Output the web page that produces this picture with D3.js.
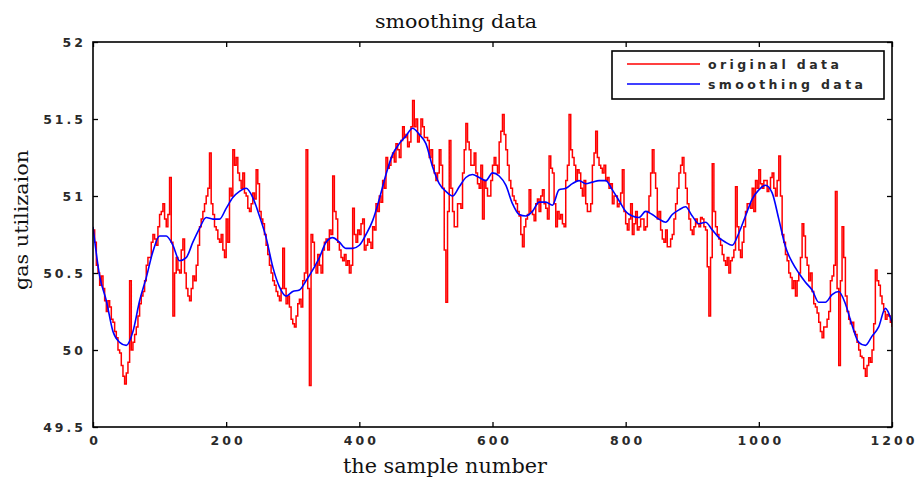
<!DOCTYPE html>
<html>
<head>
<meta charset="utf-8">
<script src="https://cdn.jsdelivr.net/npm/d3@7"></script>
<style>
  html, body { margin: 0; padding: 0; background: #fff; }
  svg { display: block; }
  .tick-label { font-family: "DejaVu Sans", sans-serif; font-weight: bold; font-size: 12.5px; letter-spacing: 3px; fill: #2a2a2a; }
  .legend-label { font-family: "DejaVu Sans", sans-serif; font-weight: bold; font-size: 12.5px; letter-spacing: 3.4px; fill: #2a2a2a; }
  .serif { font-family: "DejaVu Serif", "Liberation Serif", serif; fill: #111; }
</style>
</head>
<body>
<svg id="chart" width="919" height="482"></svg>
<script>
// Original gas utilization readings, one value every 2.5 samples (0..1200)
const originalStep = 2.5;
const originalValues = [
  50.78, 50.70, 50.55, 50.50, 50.42, 50.48, 50.40, 50.32, 50.25, 50.32,
  50.28, 50.20, 50.18, 50.12, 50.08, 50.00, 49.98, 49.90, 49.83, 49.78,
  49.85, 49.92, 50.45, 50.00, 50.05, 50.10, 50.15, 50.22, 50.30, 50.35,
  50.38, 50.45, 50.55, 50.60, 50.60, 50.70, 50.75, 50.72, 50.68, 50.80,
  50.88, 50.90, 50.95, 50.85, 50.80, 50.88, 51.12, 50.70, 50.22, 50.50,
  50.60, 50.52, 50.50, 50.65, 50.72, 50.50, 50.40, 50.35, 50.32, 50.40,
  50.48, 50.45, 50.55, 50.68, 50.80, 50.85, 50.90, 50.95, 51.00, 51.05,
  51.28, 50.95, 50.88, 50.80, 50.78, 50.72, 50.70, 50.75, 50.65, 50.60,
  50.85, 50.70, 51.05, 51.00, 51.30, 51.20, 51.25, 51.15, 51.10, 51.05,
  51.15, 51.02, 51.00, 50.92, 50.90, 50.95, 51.02, 50.98, 51.17, 51.08,
  50.90, 50.85, 50.82, 50.75, 50.68, 50.62, 50.55, 50.50, 50.45, 50.42,
  50.38, 50.35, 50.32, 50.40, 50.66, 50.40, 50.30, 50.35, 50.28, 50.20,
  50.17, 50.15, 50.22, 50.30, 50.33, 50.28, 50.45, 50.50, 51.30, 50.40,
  49.77, 50.75, 50.70, 50.55, 50.50, 50.62, 50.55, 50.50, 50.65, 50.70,
  50.72, 50.65, 50.78, 50.75, 51.13, 50.90, 50.85, 50.70, 50.65, 50.60,
  50.58, 50.62, 50.55, 50.58, 50.50, 50.55, 50.92, 50.75, 50.70, 50.78,
  50.75, 50.82, 50.85, 50.65, 50.68, 50.72, 50.70, 50.66, 50.80, 50.78,
  50.95, 50.90, 51.00, 50.96, 51.10, 51.05, 51.25, 51.18, 51.20, 51.25,
  51.28, 51.22, 51.34, 51.30, 51.25, 51.36, 51.45, 51.38, 51.40, 51.32,
  51.35, 51.45, 51.62, 51.45, 51.50, 51.35, 51.40, 51.50, 51.45, 51.38,
  51.38, 51.36, 51.25, 51.30, 51.20, 51.15, 51.10, 51.15, 51.30, 51.20,
  51.05, 50.65, 50.31, 50.90, 51.36, 51.05, 50.90, 50.80, 50.80, 50.95,
  50.95, 50.92, 51.15, 51.30, 51.47, 51.35, 51.30, 51.20, 51.20, 51.28,
  51.15, 51.08, 51.05, 51.20, 50.85, 51.10, 51.05, 51.00, 51.00, 51.10,
  51.20, 51.25, 51.20, 51.15, 51.35, 51.42, 51.53, 51.40, 51.30, 51.20,
  51.10, 51.05, 51.00, 50.97, 50.95, 50.90, 50.87, 50.75, 50.67, 50.80,
  50.85, 50.88, 51.04, 50.90, 50.88, 50.84, 50.95, 50.98, 50.90, 51.00,
  51.04, 50.95, 50.92, 50.85, 51.26, 51.18, 51.15, 50.95, 50.80, 50.90,
  50.85, 50.88, 50.82, 50.80, 51.10, 51.20, 51.53, 51.30, 51.25, 51.20,
  51.10, 51.17, 51.15, 51.05, 51.00, 51.10, 50.95, 50.90, 50.90, 50.95,
  51.20, 51.28, 51.42, 51.25, 51.20, 51.18, 51.15, 51.20, 51.10, 51.12,
  51.05, 51.08, 50.95, 51.00, 51.00, 50.93, 50.95, 51.02, 51.17, 50.90,
  50.82, 50.78, 50.85, 50.95, 50.75, 50.82, 50.90, 50.78, 50.80, 50.85,
  50.85, 50.78, 50.80, 50.90, 51.00, 51.15, 51.30, 51.15, 51.05, 50.85,
  50.90, 50.78, 50.72, 50.70, 50.78, 50.67, 50.67, 50.72, 50.75, 50.85,
  50.95, 51.05, 51.15, 51.20, 51.25, 51.15, 51.05, 50.95, 50.85, 50.78,
  50.75, 50.80, 50.85, 50.82, 50.80, 50.86, 50.85, 50.80, 50.78, 50.54,
  50.22, 50.60, 51.21, 50.90, 50.80, 50.75, 50.72, 50.68, 50.62, 50.58,
  50.55, 50.60, 50.50, 50.58, 50.60, 50.65, 51.06, 50.80, 50.65, 50.60,
  50.70, 50.80, 50.90, 50.95, 50.95, 50.92, 51.05, 50.90, 51.10, 51.05,
  51.17, 51.08, 51.05, 51.10, 51.10, 51.03, 51.05, 51.12, 51.15, 51.05,
  51.00, 51.10, 51.26, 51.00, 50.75, 50.70, 50.62, 50.58, 50.50, 50.47,
  50.40, 50.45, 50.35, 50.45, 50.50, 50.60, 50.82, 50.74, 50.60, 50.55,
  50.45, 50.50, 50.38, 50.30, 50.28, 50.24, 50.18, 50.12, 50.08, 50.15,
  50.15, 50.20, 50.25, 50.45, 50.48, 50.55, 51.03, 50.40, 49.90, 50.45,
  50.80, 50.60, 50.35, 50.25, 50.20, 50.17, 50.18, 50.12, 50.10, 50.05,
  50.00, 49.96, 49.95, 49.88, 49.83, 49.90, 49.95, 49.92, 50.00, 50.17,
  50.52, 50.45, 50.42, 50.35, 50.30, 50.25, 50.20, 50.23, 50.22, 50.18,
  50.15
];

// Smoothed curve, one value every 10 samples (0..1200)
const smoothStep = 10;
const smoothValues = [
  50.80, 50.48, 50.32, 50.12, 50.05, 50.03, 50.12, 50.32, 50.47, 50.64,
  50.74, 50.74, 50.68, 50.58, 50.60, 50.70, 50.79, 50.86, 50.85, 50.85,
  50.92, 50.99, 51.03, 51.05, 50.99, 50.87, 50.73, 50.54, 50.41, 50.35,
  50.38, 50.39, 50.45, 50.52, 50.60, 50.70, 50.73, 50.70, 50.66, 50.66,
  50.68, 50.75, 50.84, 50.98, 51.14, 51.27, 51.34, 51.39, 51.44, 51.40,
  51.34, 51.19, 51.08, 51.03, 51.00, 51.06, 51.12, 51.14, 51.12, 51.10,
  51.15, 51.13, 51.07, 50.95, 50.88, 50.87, 50.90, 50.96, 50.96, 50.94,
  51.04, 51.05, 51.08, 51.10, 51.08, 51.09, 51.10, 51.10, 51.04, 50.97,
  50.90, 50.87, 50.86, 50.90, 50.88, 50.85, 50.83, 50.88, 50.91, 50.93,
  50.87, 50.82, 50.83, 50.78, 50.73, 50.70, 50.68, 50.76, 50.87, 50.98,
  51.04, 51.07, 51.02, 50.85, 50.67, 50.57, 50.50, 50.44, 50.39, 50.31,
  50.31, 50.36, 50.38, 50.30, 50.16, 50.05, 50.03, 50.09, 50.15, 50.27,
  50.18
];

// Axis ticks
const xTicks = [0, 200, 400, 600, 800, 1000, 1200];
const yTicks = [49.5, 50, 50.5, 51, 51.5, 52];

const seriesNames = ["original data", "smoothing data"];
const seriesColors = ["#ff0000", "#0000ff"];

const margin = { left: 93, top: 42, right: 919 - 892, bottom: 482 - 427 };
const width = 919, height = 482;
const innerW = width - margin.left - margin.right;
const innerH = height - margin.top - margin.bottom;

const svg = d3.select("#chart");
const g = svg.append("g").attr("transform", `translate(${margin.left},${margin.top})`);

const x = d3.scaleLinear().domain([0, 1200]).range([0, innerW]);
const y = d3.scaleLinear().domain([49.5, 52]).range([innerH, 0]);

const original = originalValues.map((v, i) => ({ s: i * originalStep, v }));
const smooth = smoothValues.map((v, i) => ({ s: i * smoothStep, v }));

g.append("defs").append("clipPath").attr("id", "plotClip")
  .append("rect").attr("width", innerW).attr("height", innerH);

const plot = g.append("g").attr("clip-path", "url(#plotClip)");

plot.append("path")
  .datum(original)
  .attr("fill", "none")
  .attr("stroke", seriesColors[0])
  .attr("stroke-width", 1.5)
  .attr("d", d3.line().x(d => x(d.s)).y(d => y(d.v)).curve(d3.curveStepAfter));

plot.append("path")
  .datum(smooth)
  .attr("fill", "none")
  .attr("stroke", seriesColors[1])
  .attr("stroke-width", 1.6)
  .attr("d", d3.line().x(d => x(d.s)).y(d => y(d.v)).curve(d3.curveMonotoneX));

// Frame with inward ticks on all four sides
const tickLen = 5;
const axisStyle = sel => {
  sel.select(".domain").remove();
  sel.selectAll(".tick line").attr("stroke", "#000").attr("stroke-width", 1.3);
};

const xb = g.append("g").attr("transform", `translate(0,${innerH})`)
  .call(d3.axisBottom(x).tickValues(xTicks).tickSize(-tickLen).tickPadding(9).tickFormat(d3.format("d")))
  .call(axisStyle);
xb.selectAll("text").attr("class", "tick-label").attr("fill", null).attr("font-size", null)
  .attr("font-family", null).attr("dx", "1.5px");

g.append("g")
  .call(d3.axisTop(x).tickValues(xTicks).tickSize(-tickLen).tickFormat(""))
  .call(axisStyle);

const yl = g.append("g")
  .call(d3.axisLeft(y).tickValues(yTicks).tickSize(-tickLen).tickPadding(7).tickFormat(d => d3.format("")(d)))
  .call(axisStyle);
yl.selectAll("text").attr("class", "tick-label").attr("fill", null).attr("font-size", null).attr("font-family", null);

g.append("g").attr("transform", `translate(${innerW},0)`)
  .call(d3.axisRight(y).tickValues(yTicks).tickSize(-tickLen).tickFormat(""))
  .call(axisStyle);

g.append("rect")
  .attr("width", innerW).attr("height", innerH)
  .attr("fill", "none").attr("stroke", "#000").attr("stroke-width", 1.6);

// Legend
const legend = svg.append("g").attr("transform", "translate(612,51)");
legend.append("rect").attr("width", 272).attr("height", 48)
  .attr("fill", "#fff").attr("stroke", "#000").attr("stroke-width", 1.6);
seriesNames.forEach((name, i) => {
  const ly = 13 + i * 20;
  legend.append("line").attr("x1", 15).attr("x2", 88).attr("y1", ly).attr("y2", ly)
    .attr("stroke", seriesColors[i]).attr("stroke-width", 1.6);
  legend.append("text").attr("class", "legend-label").attr("x", 96).attr("y", ly + 4.5).text(name);
});

// Titles
svg.append("text").attr("class", "serif").attr("x", 456).attr("y", 28)
  .attr("text-anchor", "middle").attr("font-size", 19)
  .attr("textLength", 162).attr("lengthAdjust", "spacingAndGlyphs").text("smoothing data");
svg.append("text").attr("class", "serif").attr("x", 445).attr("y", 473)
  .attr("text-anchor", "middle").attr("font-size", 20)
  .attr("textLength", 204).attr("lengthAdjust", "spacingAndGlyphs").text("the sample number");
svg.append("text").attr("class", "serif")
  .attr("transform", "translate(28,220) rotate(-90)")
  .attr("text-anchor", "middle").attr("font-size", 19)
  .attr("textLength", 140).attr("lengthAdjust", "spacingAndGlyphs").text("gas utilizaion");
</script>
</body>
</html>
